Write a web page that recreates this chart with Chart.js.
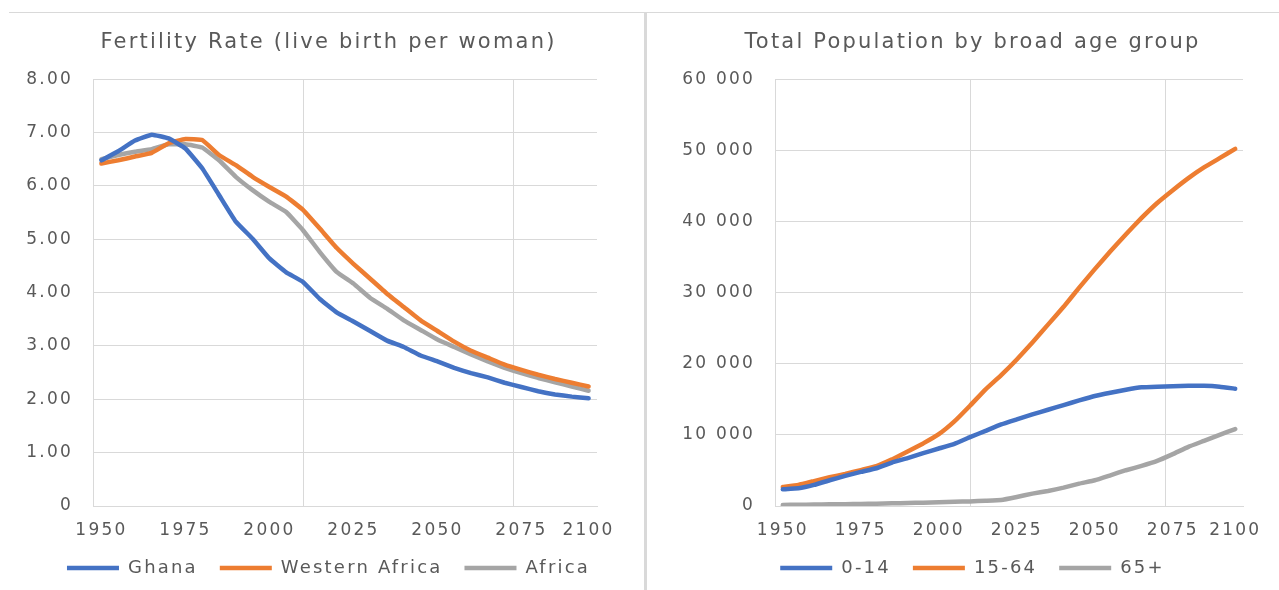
<!doctype html>
<html>
<head>
<title>Fertility and population</title>
<script src="https://cdn.jsdelivr.net/npm/chart.js@4.4.1/dist/chart.umd.min.js"></script>
<style>
	html, body { margin: 0; padding: 0; background: #fff; overflow: hidden; }
	body { width: 1279px; height: 590px; position: relative; }
	.box { position: absolute; top: 0; width: 640px; height: 590px; }
	.topline { position: absolute; left: 9px; top: 12px; width: 1290px; height: 1px; background: #d9d9d9; }
	.divider { position: absolute; left: 644px; top: 12px; width: 3px; height: 578px; background: #d9d9d9; }
</style>
</head>
<body>
<div class="topline"></div>
<div class="divider"></div>
<div class="box" style="left:0"><canvas id="fert"></canvas></div>
<div class="box" style="left:648px"><canvas id="pop"></canvas></div>
<script>
// five-year periods (start year); last period is labelled 2100 on the axis
const years = [1950, 1955, 1960, 1965, 1970, 1975, 1980, 1985, 1990, 1995,
	2000, 2005, 2010, 2015, 2020, 2025, 2030, 2035, 2040, 2045,
	2050, 2055, 2060, 2065, 2070, 2075, 2080, 2085, 2090, 2095];
const tickYears = [1950, 1975, 2000, 2025, 2050, 2075, 2095];
const tickLabels = ['1950', '1975', '2000', '2025', '2050', '2075', '2100'];
const gridYears = [2010, 2072.5];

// fertility rate, live births per woman
const ghana = [6.48, 6.65, 6.85, 6.96, 6.89, 6.70, 6.33, 5.83, 5.33, 5.01,
	4.64, 4.38, 4.20, 3.88, 3.63, 3.46, 3.28, 3.10, 2.98, 2.82,
	2.71, 2.59, 2.49, 2.41, 2.31, 2.23, 2.15, 2.09, 2.05, 2.02];
const westernAfrica = [6.42, 6.48, 6.55, 6.62, 6.80, 6.88, 6.86, 6.58, 6.39, 6.17,
	5.98, 5.80, 5.55, 5.20, 4.84, 4.54, 4.26, 3.98, 3.73, 3.48,
	3.28, 3.08, 2.91, 2.78, 2.65, 2.55, 2.46, 2.38, 2.31, 2.24];
const africa = [6.50, 6.58, 6.64, 6.69, 6.78, 6.78, 6.72, 6.48, 6.17, 5.92,
	5.70, 5.51, 5.17, 4.76, 4.39, 4.17, 3.90, 3.70, 3.48, 3.30,
	3.12, 2.98, 2.84, 2.71, 2.59, 2.49, 2.40, 2.32, 2.24, 2.16];

// population (thousands) by broad age group
const age0to14 = [2350, 2490, 2960, 3620, 4230, 4790, 5310, 6110, 6720, 7430,
	8080, 8740, 9680, 10570, 11460, 12170, 12870, 13530, 14190, 14840,
	15460, 15930, 16350, 16680, 16770, 16820, 16900, 16900, 16770, 16490];
const age15to64 = [2680, 2960, 3500, 4050, 4500, 5050, 5600, 6550, 7650, 8800,
	10100, 11900, 14100, 16400, 18400, 20600, 23000, 25500, 28000, 30700,
	33300, 35800, 38200, 40500, 42600, 44400, 46100, 47600, 48900, 50200];
const age65plus = [150, 170, 200, 230, 260, 290, 330, 370, 420, 470,
	530, 590, 650, 740, 850, 1270, 1740, 2110, 2580, 3150,
	3620, 4320, 5030, 5640, 6340, 7290, 8320, 9160, 10010, 10810];

const BLUE = '#4472C4', ORANGE = '#ED7D31', GREY = '#A5A5A5';
const TEXT = '#595959', GRID = '#d9d9d9';
const FONT = "'DejaVu Sans', 'Liberation Sans', sans-serif";

// the original text is drawn wide, so spread the letters a little
const spread = {
	id: 'spread',
	beforeLayout: (chart) => { chart.ctx.letterSpacing = '2.2px'; },
	beforeDraw: (chart) => { chart.ctx.letterSpacing = '2.2px'; }
};

function series(label, values, color) {
	return {
		label: label,
		data: years.map((yr, i) => ({x: yr, y: values[i]})),
		borderColor: color,
		backgroundColor: color,
		borderWidth: 4.5,
		borderCapStyle: 'round',
		borderJoinStyle: 'round',
		pointRadius: 0,
		tension: 0.1
	};
}

function makeChart(id, datasets, yOpts, leftPad, axisWidth, rightWidth) {
	return new Chart(document.getElementById(id), {
		type: 'line',
		data: {datasets: datasets},
		plugins: [spread],
		options: {
			responsive: false,
			animation: false,
			layout: {padding: {left: leftPad, right: 0, top: 0, bottom: 3}},
			plugins: {
				title: {
					display: true,
					text: yOpts.title,
					color: TEXT,
					font: {family: FONT, size: 21, weight: 'normal'},
					padding: {top: 30, bottom: 24}
				},
				legend: {
					position: 'bottom',
					labels: {
						color: TEXT,
						font: {family: FONT, size: 18},
						usePointStyle: true,
						pointStyle: 'line',
						pointStyleWidth: 52,
						boxHeight: 18,
						padding: 22
					}
				},
				tooltip: {enabled: false}
			},
			scales: {
				x: {
					type: 'linear',
					min: 1947.5,
					max: 2097.5,
					afterBuildTicks: (s) => {
						s.ticks = tickYears.concat(gridYears).map(v => ({value: v}));
					},
					afterFit: (s) => { s.height = 31; },
					ticks: {
						autoSkip: false,
						maxRotation: 0,
						padding: 14,
						color: TEXT,
						font: {family: FONT, size: 17},
						callback: (v) => {
							const i = tickYears.indexOf(v);
							return i < 0 ? '' : tickLabels[i];
						}
					},
					grid: {
						drawTicks: false,
						color: (c) => gridYears.includes(c.tick.value) ? GRID : 'rgba(0,0,0,0)'
					},
					border: {display: true, color: GRID}
				},
				y: {
					min: 0,
					max: yOpts.max,
					afterFit: (s) => { s.width = axisWidth; },
					ticks: {
						stepSize: yOpts.step,
						padding: 20,
						color: TEXT,
						font: {family: FONT, size: 17},
						callback: yOpts.format
					},
					grid: {drawTicks: false, color: GRID},
					border: {display: true, color: GRID}
				},
				pad: {
					position: 'right',
					display: true,
					afterFit: (s) => { s.width = rightWidth; },
					ticks: {display: false},
					grid: {display: false},
					border: {display: false}
				}
			}
		}
	});
}

function sizeCanvas(id) {
	const c = document.getElementById(id);
	c.width = 640; c.height = 590;
	c.style.width = '640px'; c.style.height = '590px';
}
sizeCanvas('fert');
sizeCanvas('pop');

makeChart('fert', [
	series('Ghana', ghana, BLUE),
	series('Western Africa', westernAfrica, ORANGE),
	series('Africa', africa, GREY)
], {
	title: 'Fertility Rate (live birth per woman)',
	max: 8, step: 1,
	format: (v) => v === 0 ? '0' : v.toFixed(2)
}, 17, 76, 43);

makeChart('pop', [
	series('0-14', age0to14, BLUE),
	series('15-64', age15to64, ORANGE),
	series('65+', age65plus, GREY)
], {
	title: 'Total Population by broad age group',
	max: 60000, step: 10000,
	format: (v) => v === 0 ? '0' : String(v).replace(/\B(?=(\d{3})+(?!\d))/g, ' ')
}, 9, 118, 45);
</script>
</body>
</html>
